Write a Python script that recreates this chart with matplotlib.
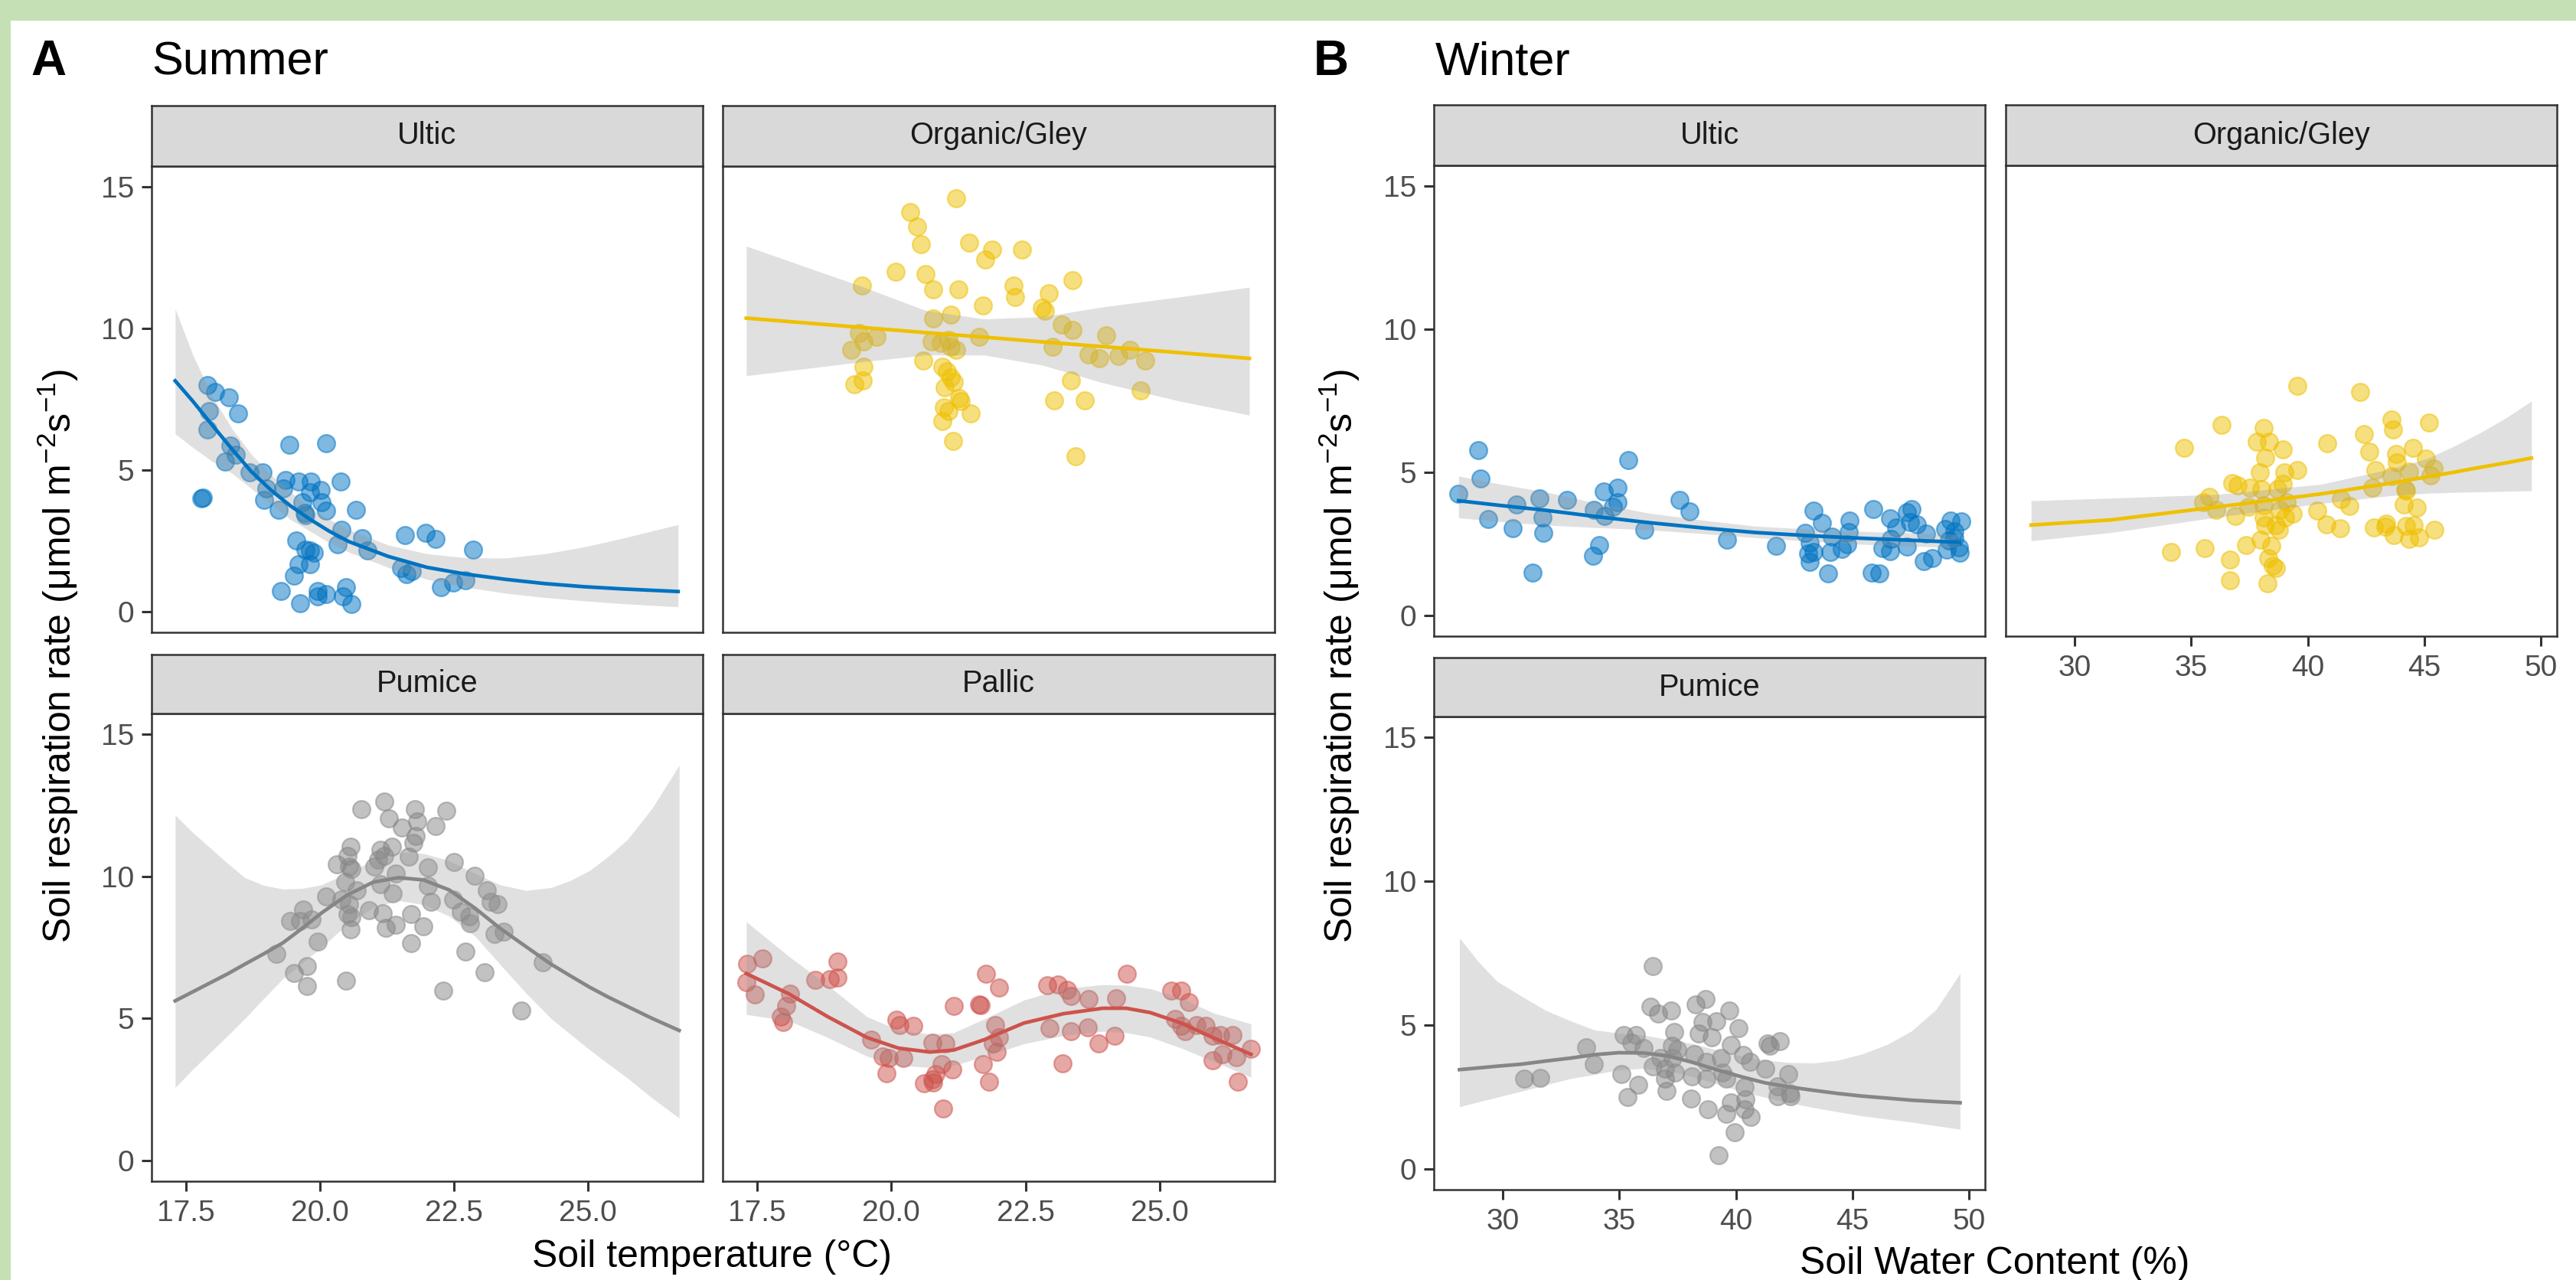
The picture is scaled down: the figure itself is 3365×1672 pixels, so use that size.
import numpy as np
import matplotlib
matplotlib.use("Agg")
import matplotlib.pyplot as plt
from matplotlib.patches import Rectangle
from matplotlib.colors import to_rgba

# ------------------------------------------------------------------ data
colors = {"Ultic": "#0073C2", "Organic/Gley": "#EFC000",
          "Pumice": "#868686", "Pallic": "#CD534C"}

summer_x_ticks = [17.5, 20.0, 22.5, 25.0]
winter_x_ticks = [30, 35, 40, 45, 50]
y_ticks = [0, 5, 10, 15]

# (soil temperature, respiration rate)
summer_ultic_pts = [
    (17.90, 8.00), (18.04, 7.75), (18.30, 7.58), (18.47, 7.00), (17.93, 7.07), (17.90, 6.43),
    (18.33, 5.86), (18.43, 5.53), (18.23, 5.31), (17.79, 4.01), (17.81, 4.03), (18.69, 4.93),
    (18.93, 4.93), (19.00, 4.35), (18.96, 3.96), (19.23, 3.60), (19.36, 4.65), (19.31, 4.35),
    (19.43, 5.89), (19.60, 4.61), (19.83, 4.61), (19.82, 4.23), (20.01, 4.31), (20.11, 5.94),
    (19.67, 3.86), (19.71, 3.50), (19.73, 3.41), (20.03, 3.86), (20.11, 3.56), (20.38, 4.61),
    (20.67, 3.60), (20.40, 2.90), (20.33, 2.39), (20.78, 2.60), (20.89, 2.17), (19.56, 2.51),
    (19.73, 2.20), (19.89, 2.08), (19.82, 2.17), (19.60, 1.69), (19.82, 1.67), (19.52, 1.27),
    (19.27, 0.75), (19.63, 0.30), (19.96, 0.75), (19.96, 0.54), (20.11, 0.63), (20.49, 0.87),
    (20.43, 0.54), (20.58, 0.27), (21.59, 2.72), (21.97, 2.80), (22.15, 2.56), (22.85, 2.20),
    (21.51, 1.55), (21.62, 1.33), (21.71, 1.45), (22.26, 0.87), (22.49, 1.03), (22.72, 1.11)]

summer_organic_pts = [
    (21.21, 14.58), (20.35, 14.09), (20.48, 13.59), (20.55, 12.96), (21.45, 13.02), (21.88, 12.78),
    (21.75, 12.44), (22.44, 12.78), (20.08, 12.00), (20.64, 11.91), (19.46, 11.50), (20.78, 11.38),
    (21.25, 11.38), (22.28, 11.50), (22.31, 11.11), (22.94, 11.23), (23.37, 11.71), (21.71, 10.80),
    (22.81, 10.72), (22.86, 10.63), (20.78, 10.36), (21.11, 10.47), (23.18, 10.12), (23.37, 9.95),
    (24.00, 9.76), (19.40, 9.84), (19.73, 9.69), (19.49, 9.54), (19.25, 9.24), (20.75, 9.54),
    (20.93, 9.48), (21.07, 9.60), (21.11, 9.36), (21.21, 9.24), (21.64, 9.69), (23.01, 9.36),
    (23.68, 9.08), (23.87, 8.94), (24.23, 9.03), (24.44, 9.24), (24.73, 8.85), (19.49, 8.66),
    (20.60, 8.85), (20.95, 8.66), (21.04, 8.48), (21.11, 8.27), (21.16, 8.12), (21.00, 7.91),
    (21.26, 7.55), (21.29, 7.43), (19.47, 8.15), (19.31, 8.03), (23.35, 8.15), (24.65, 7.81),
    (23.04, 7.46), (23.60, 7.45), (20.98, 7.22), (21.06, 7.07), (21.48, 7.00), (20.95, 6.73),
    (21.15, 6.04), (23.44, 5.50)]

summer_pumice_pts = [
    (20.77, 12.36), (21.20, 12.62), (21.28, 12.04), (21.77, 12.36), (21.82, 11.92), (21.53, 11.70),
    (22.15, 11.77), (22.36, 12.29), (21.79, 11.42), (21.74, 11.18), (20.57, 11.05), (21.34, 11.05),
    (21.13, 10.93), (21.20, 10.71), (20.51, 10.71), (20.31, 10.42), (20.54, 10.35), (20.58, 10.25),
    (21.08, 10.57), (21.02, 10.35), (21.66, 10.69), (22.01, 10.30), (22.50, 10.49), (22.88, 10.02),
    (21.41, 10.10), (20.47, 9.80), (21.13, 9.73), (20.11, 9.28), (20.69, 9.51), (21.36, 9.39),
    (22.01, 9.66), (22.07, 9.10), (22.48, 9.17), (23.12, 9.51), (23.18, 9.10), (23.32, 9.03),
    (20.40, 9.17), (20.54, 9.03), (20.91, 8.81), (19.68, 8.84), (20.51, 8.66), (20.58, 8.56),
    (19.44, 8.44), (19.63, 8.44), (19.85, 8.48), (21.17, 8.70), (21.70, 8.66), (22.63, 8.76),
    (22.80, 8.34), (22.78, 8.59), (20.57, 8.12), (21.23, 8.19), (21.42, 8.29), (21.93, 8.25),
    (23.25, 7.96), (23.43, 8.04), (19.96, 7.71), (21.70, 7.66), (19.19, 7.27), (22.72, 7.34),
    (19.51, 6.60), (19.76, 6.83), (19.76, 6.14), (20.49, 6.34), (23.07, 6.63), (24.15, 6.97),
    (22.30, 5.97), (23.76, 5.28)]

summer_pallic_pts = [
    (17.32, 6.93), (17.60, 7.12), (17.30, 6.28), (17.46, 5.84), (18.12, 5.87), (18.05, 5.43),
    (17.94, 5.06), (17.98, 4.87), (18.58, 6.36), (18.85, 6.38), (19.00, 7.00), (19.00, 6.43),
    (19.62, 4.26), (20.10, 4.96), (20.16, 4.77), (20.41, 4.74), (19.84, 3.67), (19.95, 3.60),
    (20.22, 3.60), (19.91, 3.08), (20.77, 4.15), (21.01, 4.11), (21.16, 5.43), (20.94, 3.41),
    (21.14, 3.20), (20.83, 3.05), (20.76, 2.86), (20.61, 2.72), (20.78, 2.76), (20.96, 1.83),
    (21.76, 6.56), (22.00, 6.09), (21.63, 5.50), (21.67, 5.46), (21.93, 4.77), (22.00, 4.33),
    (21.90, 4.11), (21.96, 3.82), (21.71, 3.41), (21.82, 2.79), (22.91, 6.16), (23.10, 6.19),
    (23.28, 6.02), (23.35, 5.80), (23.68, 5.68), (24.19, 5.72), (24.39, 6.58), (22.95, 4.67),
    (23.35, 4.55), (23.66, 4.70), (23.86, 4.11), (24.16, 4.40), (23.19, 3.42), (25.22, 5.99),
    (25.40, 5.99), (25.55, 5.58), (25.29, 4.99), (25.40, 4.73), (25.47, 4.55), (25.69, 4.77),
    (25.85, 4.73), (25.99, 4.40), (26.13, 4.43), (26.35, 4.43), (25.99, 3.52), (26.17, 3.74),
    (26.42, 3.64), (26.46, 2.79), (26.70, 3.93)]

# (soil water content, respiration rate)
winter_ultic_pts = [
    (28.93, 5.77), (29.05, 4.80), (28.10, 4.26), (29.38, 3.37), (30.59, 3.88), (30.41, 3.05),
    (31.57, 4.10), (31.72, 3.43), (31.75, 2.90), (31.27, 1.50), (32.75, 4.04), (33.91, 3.68),
    (34.33, 4.34), (34.93, 4.46), (34.92, 3.95), (34.74, 3.79), (34.36, 3.48), (35.39, 5.42),
    (34.13, 2.45), (33.86, 2.09), (36.06, 2.99), (37.57, 4.05), (38.01, 3.63), (39.61, 2.65),
    (41.72, 2.43), (43.33, 3.66), (42.96, 2.90), (43.68, 3.24), (43.18, 2.54), (43.33, 2.23),
    (43.10, 2.18), (43.18, 1.87), (44.06, 2.23), (44.13, 2.76), (44.89, 3.32), (44.84, 2.91),
    (44.77, 2.49), (44.54, 2.32), (43.94, 1.47), (45.90, 3.72), (46.62, 3.39), (46.65, 2.67),
    (46.30, 2.36), (46.62, 2.25), (45.82, 1.50), (46.15, 1.47), (47.33, 3.61), (47.55, 3.72),
    (47.48, 3.27), (47.78, 3.18), (47.33, 2.41), (48.16, 2.85), (48.05, 1.90), (48.43, 2.02),
    (49.21, 3.32), (49.66, 3.30), (48.99, 3.03), (49.37, 2.94), (49.14, 2.63), (49.56, 2.38),
    (49.59, 2.20), (49.06, 2.29), (46.88, 3.07), (49.37, 2.70)]

winter_organic_pts = [
    (39.54, 8.02), (42.25, 7.80), (36.31, 6.66), (38.11, 6.55), (43.61, 6.84), (43.65, 6.51),
    (45.19, 6.75), (34.68, 5.86), (37.81, 6.06), (38.34, 6.06), (38.94, 5.79), (38.19, 5.50),
    (40.82, 6.02), (42.40, 6.33), (42.63, 5.73), (44.51, 5.86), (43.79, 5.64), (45.07, 5.48),
    (45.41, 5.13), (37.95, 4.99), (39.01, 4.99), (39.54, 5.08), (42.89, 5.08), (43.84, 5.35),
    (44.36, 5.04), (45.26, 4.90), (36.75, 4.63), (36.98, 4.55), (37.51, 4.46), (38.01, 4.41),
    (38.94, 4.59), (38.71, 4.41), (42.78, 4.46), (43.61, 4.86), (44.21, 4.37), (35.52, 3.97),
    (35.78, 4.14), (36.08, 3.70), (36.91, 3.48), (37.44, 3.79), (38.11, 3.86), (38.11, 3.43),
    (38.79, 3.70), (39.09, 3.97), (39.36, 3.57), (39.02, 3.43), (41.43, 4.07), (41.80, 3.83),
    (40.42, 3.66), (44.18, 4.41), (44.13, 3.89), (44.69, 3.77), (38.16, 3.16), (38.64, 3.16),
    (38.76, 3.00), (40.79, 3.18), (41.39, 3.06), (42.85, 3.07), (43.38, 3.21), (43.34, 3.09),
    (43.68, 2.81), (44.21, 3.12), (44.54, 3.16), (44.36, 2.67), (44.78, 2.72), (45.44, 2.99),
    (37.99, 2.65), (37.36, 2.45), (38.45, 2.43), (38.31, 2.02), (38.52, 1.74), (38.64, 1.65),
    (34.15, 2.23), (35.58, 2.36), (36.65, 1.96), (36.65, 1.22), (38.26, 1.13)]

winter_pumice_pts = [
    (36.44, 7.05), (36.34, 5.65), (36.65, 5.41), (37.22, 5.51), (38.28, 5.72), (38.70, 5.90),
    (39.73, 5.51), (39.16, 5.12), (38.58, 5.11), (38.39, 4.72), (38.95, 4.57), (40.10, 4.89),
    (37.34, 4.75), (35.19, 4.65), (35.71, 4.65), (35.50, 4.40), (36.03, 4.21), (33.58, 4.24),
    (33.89, 3.64), (37.24, 4.29), (37.49, 4.14), (37.28, 3.85), (39.79, 4.31), (40.31, 3.97),
    (40.59, 3.71), (41.36, 4.36), (41.88, 4.43), (41.46, 4.29), (38.22, 4.00), (38.74, 3.71),
    (39.37, 3.85), (36.76, 3.85), (36.44, 3.57), (36.97, 3.49), (37.38, 3.35), (38.12, 3.21),
    (38.74, 3.14), (39.41, 3.35), (39.58, 3.14), (41.26, 3.49), (42.26, 3.31), (35.08, 3.31),
    (36.97, 3.14), (30.90, 3.14), (31.59, 3.16), (35.82, 2.92), (37.03, 2.70), (35.36, 2.49),
    (38.08, 2.44), (40.38, 2.85), (40.42, 2.42), (39.79, 2.30), (41.78, 2.88), (42.30, 2.63),
    (41.78, 2.53), (42.34, 2.53), (38.81, 2.06), (39.58, 1.91), (40.38, 2.06), (40.63, 1.81),
    (39.94, 1.27), (39.27, 0.47)]

# smooth fits: (x, fit, lower CI, upper CI)
summer_ultic_fit = [
    (17.30, 8.15, 6.28, 10.69), (17.63, 7.43, 5.80, 9.06), (17.99, 6.59, 5.31, 7.61),
    (18.36, 5.74, 4.89, 6.46), (18.72, 4.95, 4.35, 5.56), (19.09, 4.29, 3.80, 4.83),
    (19.45, 3.74, 3.26, 4.23), (19.82, 3.26, 2.84, 3.68), (20.18, 2.84, 2.44, 3.26),
    (20.54, 2.48, 2.11, 2.90), (21.27, 1.96, 1.57, 2.36), (22.00, 1.57, 1.15, 2.05),
    (22.73, 1.33, 0.87, 1.91), (23.46, 1.15, 0.66, 1.90), (24.19, 1.00, 0.51, 2.05),
    (24.92, 0.89, 0.39, 2.29), (25.65, 0.81, 0.29, 2.60), (26.68, 0.72, 0.18, 3.08)]

summer_organic_fit = [
    (17.30, 10.36, 8.33, 12.90), (19.46, 10.03, 8.82, 11.47), (20.64, 9.85, 9.06, 10.63),
    (21.73, 9.69, 9.06, 10.33), (22.82, 9.52, 8.70, 10.41), (23.92, 9.36, 8.09, 10.75),
    (25.38, 9.14, 7.43, 11.11), (26.67, 8.94, 6.94, 11.45)]

summer_pumice_fit = [
    (17.30, 5.62, 2.57, 12.15), (17.62, 5.93, 3.20, 11.55), (17.95, 6.25, 3.80, 11.00),
    (18.28, 6.57, 4.40, 10.45), (18.60, 6.91, 5.00, 9.95), (18.95, 7.27, 5.70, 9.68),
    (19.31, 7.66, 6.40, 9.55), (19.67, 8.17, 6.95, 9.57), (20.03, 8.71, 7.50, 9.70),
    (20.50, 9.33, 8.30, 10.10), (20.99, 9.79, 8.90, 10.55), (21.46, 9.95, 9.15, 10.85),
    (21.93, 9.87, 9.00, 10.80), (22.41, 9.52, 8.60, 10.55), (22.89, 8.88, 7.90, 10.10),
    (23.36, 8.17, 6.90, 9.70), (23.84, 7.53, 5.90, 9.50), (24.31, 6.91, 5.00, 9.60),
    (24.67, 6.50, 4.45, 9.85), (25.03, 6.10, 3.90, 10.20), (25.38, 5.75, 3.40, 10.70),
    (25.74, 5.42, 2.90, 11.30), (26.20, 5.00, 2.20, 12.40), (26.70, 4.58, 1.50, 13.90)]

summer_pallic_fit = [
    (17.30, 6.58, 5.14, 8.40), (18.09, 5.87, 4.92, 7.19), (18.82, 5.06, 4.33, 6.16),
    (19.55, 4.33, 3.67, 5.06), (20.13, 3.96, 3.35, 4.60), (20.72, 3.82, 3.28, 4.45),
    (21.16, 3.89, 3.35, 4.50), (21.74, 4.26, 3.67, 4.99), (22.47, 4.84, 4.11, 5.65),
    (23.21, 5.17, 4.40, 6.05), (23.94, 5.36, 4.55, 6.19), (24.38, 5.36, 4.50, 6.17),
    (24.82, 5.21, 4.35, 6.05), (25.40, 4.84, 3.96, 5.72), (25.99, 4.33, 3.50, 5.20),
    (26.70, 3.74, 2.94, 4.81)]

winter_ultic_fit = [
    (28.10, 4.01, 3.41, 4.87), (29.95, 3.84, 3.28, 4.58), (31.80, 3.68, 3.16, 4.32),
    (34.06, 3.45, 3.07, 3.92), (36.32, 3.24, 2.99, 3.57), (38.58, 3.06, 2.86, 3.33),
    (40.84, 2.90, 2.72, 3.12), (43.10, 2.79, 2.60, 3.02), (45.37, 2.70, 2.49, 2.94),
    (49.59, 2.56, 2.36, 2.83)]

winter_organic_fit = [
    (28.13, 3.16, 2.61, 4.01), (31.56, 3.34, 2.90, 4.10), (36.08, 3.79, 3.43, 4.23),
    (40.60, 4.25, 3.92, 4.59), (43.61, 4.63, 4.19, 5.13), (45.11, 4.84, 4.27, 5.48),
    (46.24, 5.00, 4.30, 5.90), (47.37, 5.17, 4.32, 6.37), (48.50, 5.33, 4.34, 6.90),
    (49.60, 5.50, 4.36, 7.49)]

winter_pumice_fit = [
    (28.14, 3.45, 2.16, 8.03), (28.95, 3.51, 2.33, 7.20), (29.75, 3.57, 2.49, 6.52),
    (30.79, 3.64, 2.70, 6.01), (31.84, 3.75, 2.92, 5.51), (32.89, 3.85, 3.14, 5.15),
    (33.93, 3.97, 3.28, 4.83), (34.98, 4.04, 3.45, 4.72), (36.03, 4.03, 3.49, 4.65),
    (37.07, 3.93, 3.42, 4.50), (38.12, 3.71, 3.21, 4.36), (39.16, 3.45, 2.96, 4.14),
    (40.21, 3.21, 2.70, 3.93), (41.26, 2.99, 2.49, 3.78), (42.30, 2.85, 2.30, 3.70),
    (43.35, 2.73, 2.13, 3.68), (44.40, 2.62, 1.98, 3.78), (45.44, 2.53, 1.84, 4.00),
    (46.50, 2.46, 1.73, 4.33), (47.53, 2.39, 1.63, 4.79), (48.60, 2.34, 1.50, 5.55),
    (49.62, 2.30, 1.38, 6.80)]

# ------------------------------------------------------------------ style
plt.rcParams['font.family'] = ['Liberation Sans', 'DejaVu Sans']
plt.rcParams['mathtext.fontset'] = 'custom'
plt.rcParams['mathtext.rm'] = 'Liberation Sans'
plt.rcParams['mathtext.it'] = 'Liberation Sans:italic'
plt.rcParams['mathtext.bf'] = 'Liberation Sans:bold'

W, H, DPI = 3365, 1672, 200
fig = plt.figure(figsize=(W / DPI, H / DPI), dpi=DPI)
fig.patch.set_facecolor('white')

GREEN = '#C5E0B4'
fig.patches.append(Rectangle((0, 1 - 27 / H), 1, 27 / H, transform=fig.transFigure,
                             facecolor=GREEN, edgecolor='none', zorder=0))
fig.patches.append(Rectangle((0, 0), 14 / W, 1, transform=fig.transFigure,
                             facecolor=GREEN, edgecolor='none', zorder=0))

DARK = '#333333'
TICKLAB = '#4D4D4D'
TICK_FS = 14.0
STRIP_FS = 14.3
TITLE_FS = 18.0
YLIM = (-0.72, 15.72)


def rect(l, t, r, b):
    return [l / W, 1 - b / H, (r - l) / W, (b - t) / H]


def draw_panel(panel_box, strip_box, title, pts, fit, color, xlim, xticks,
               show_x, show_y, xfmt):
    ax = fig.add_axes(rect(*panel_box))
    pts = np.asarray(pts, dtype=float)
    fit = np.asarray(fit, dtype=float)
    rgba = to_rgba(color, 0.5)
    ax.scatter(pts[:, 0], pts[:, 1], s=68, facecolors=[rgba], edgecolors=[rgba],
               linewidths=0.8, zorder=2)
    ax.fill_between(fit[:, 0], fit[:, 2], fit[:, 3], color='#999999', alpha=0.3,
                    linewidth=0, zorder=3)
    ax.plot(fit[:, 0], fit[:, 1], color=color, lw=1.7, zorder=4,
            solid_joinstyle='round')
    ax.set_xlim(*xlim)
    ax.set_ylim(*YLIM)
    ax.set_xticks(xticks)
    ax.set_yticks(y_ticks)
    ax.set_xticklabels([xfmt.format(v) for v in xticks])
    ax.set_yticklabels([str(v) for v in y_ticks])
    ax.tick_params(axis='both', length=4.6, width=1.1, color=DARK,
                   labelcolor=TICKLAB, labelsize=TICK_FS)
    ax.tick_params(axis='y', pad=3.5)
    ax.tick_params(axis='x', pad=4.0)
    if not show_x:
        ax.tick_params(axis='x', bottom=False, labelbottom=False)
    if not show_y:
        ax.tick_params(axis='y', left=False, labelleft=False)
    for sp in ax.spines.values():
        sp.set_color(DARK)
        sp.set_linewidth(0.9)
    ax.set_facecolor('white')

    sax = fig.add_axes(rect(*strip_box))
    sax.set_facecolor('#D9D9D9')
    sax.set_xticks([])
    sax.set_yticks([])
    for sp in sax.spines.values():
        sp.set_color(DARK)
        sp.set_linewidth(0.9)
    sax.text(0.5, 0.5, title, transform=sax.transAxes, ha='center', va='center',
             fontsize=STRIP_FS, color='#1A1A1A')
    return ax


# ---------------- Summer (A)
sx = (16.86, 27.14)
sfmt = '{:.1f}'
draw_panel((198, 217, 918, 826), (198, 138, 918, 217), 'Ultic', summer_ultic_pts,
           summer_ultic_fit, colors['Ultic'], sx, summer_x_ticks, False, True, sfmt)
draw_panel((944, 217, 1665, 826), (944, 138, 1665, 217), 'Organic/Gley', summer_organic_pts,
           summer_organic_fit, colors['Organic/Gley'], sx, summer_x_ticks, False, False, sfmt)
draw_panel((198, 932, 918, 1543), (198, 855, 918, 932), 'Pumice', summer_pumice_pts,
           summer_pumice_fit, colors['Pumice'], sx, summer_x_ticks, True, True, sfmt)
draw_panel((944, 932, 1665, 1543), (944, 855, 1665, 932), 'Pallic', summer_pallic_pts,
           summer_pallic_fit, colors['Pallic'], sx, summer_x_ticks, True, False, sfmt)

# ---------------- Winter (B)
wx = (27.04, 50.69)
wfmt = '{:d}'
draw_panel((1873, 216, 2593, 831), (1873, 137, 2593, 216), 'Ultic', winter_ultic_pts,
           winter_ultic_fit, colors['Ultic'], wx, winter_x_ticks, False, True, wfmt)
draw_panel((2620, 216, 3340, 831), (2620, 137, 3340, 216), 'Organic/Gley', winter_organic_pts,
           winter_organic_fit, colors['Organic/Gley'], wx, winter_x_ticks, True, False, wfmt)
draw_panel((1873, 936, 2593, 1554), (1873, 859, 2593, 936), 'Pumice', winter_pumice_pts,
           winter_pumice_fit, colors['Pumice'], wx, winter_x_ticks, True, True, wfmt)

# ---------------- labels
def fy(y):
    return 1 - y / H

fig.text(40 / W, fy(98), 'A', fontsize=23, fontweight='bold', va='baseline', ha='left')
fig.text(198 / W, fy(98), 'Summer', fontsize=22, va='baseline', ha='left')
fig.text(1716 / W, fy(98), 'B', fontsize=23, fontweight='bold', va='baseline', ha='left')
fig.text(1875 / W, fy(98), 'Winter', fontsize=22, va='baseline', ha='left')

ylab = 'Soil respiration rate (μmol m$^{-2}$s$^{-1}$)'
fig.text(76 / W, fy(857), ylab, rotation=90, ha='center', va='center', fontsize=TITLE_FS)
fig.text(1750 / W, fy(857), ylab, rotation=90, ha='center', va='center', fontsize=TITLE_FS)

fig.text(930 / W, fy(1655), 'Soil temperature (°C)', ha='center', va='baseline',
         fontsize=TITLE_FS)
fig.text(2606 / W, fy(1664), 'Soil Water Content (%)', ha='center', va='baseline',
         fontsize=TITLE_FS)

fig.savefig('out.png', dpi=DPI, facecolor='white')
